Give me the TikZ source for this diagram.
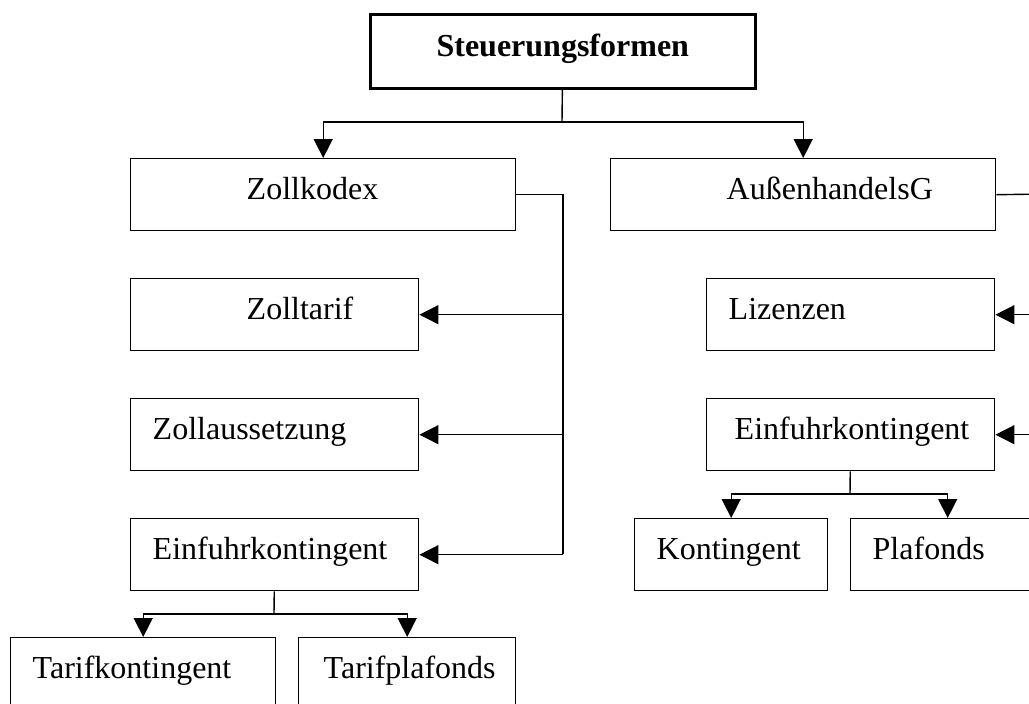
\documentclass[tikz,border=0pt]{standalone}
\usepackage{fontspec}
\setmainfont{Liberation Serif}
\usepackage{tikz}
\usetikzlibrary{positioning,shapes,arrows}
\tikzstyle{box}=[rectangle, draw=black, line width=1.4pt, anchor=north west, align=left, text=black, inner xsep=22pt, inner ysep=0pt, text height=41pt, text depth=31pt, font=\fontsize{32}{38}\selectfont]
\tikzstyle{link}=[line width=1.4pt]
\usetikzlibrary{arrows.meta}
\tikzset{>={Triangle[width=19pt,length=19pt]}}
\newcommand{\boxindent}{\hspace*{94pt}}

\begin{document}
\begin{tikzpicture}[x=1pt,y=-1pt]
    \useasboundingbox (0,0) rectangle (1029,704);
    \clip (0,0) rectangle (1029,704);

        \node(top)[box, line width=2.6pt, align=center, text width=341pt, text height=42pt, text depth=32pt] at (369,13) {\textbf{Steuerungsformen}};

        \node(zollkodex)[box, text width=341pt] at (130,158) {\boxindent\mbox{Zollkodex}};
        \node(aussen)[box, text width=341pt] at (610,158) {\boxindent\mbox{AußenhandelsG}};

        \node(zolltarif)[box, text width=244pt] at (130,278) {\boxindent\mbox{Zolltarif}};
        \node(zollaus)[box, text width=244pt] at (130,398) {\mbox{Zollaussetzung}};
        \node(einfL)[box, text width=244pt] at (130,518) {\mbox{Einfuhrkontingent}};
        \node(tarifk)[box, text width=221pt] at (10,637) {\mbox{Tarifkontingent}};
        \node(tarifp)[box, text width=173pt] at (298,637) {\hspace*{3pt}\mbox{Tarifplafonds}};

        \node(lizenzen)[box, text width=244pt] at (706,278) {\mbox{Lizenzen}};
        \node(einfR)[box, text width=244pt] at (706,398) {\hspace*{6pt}\mbox{Einfuhrkontingent}};
        \node(kontingent)[box, text width=149pt] at (634,518) {\mbox{Kontingent}};
        \node(plafonds)[box, text width=150pt] at (850,518) {\mbox{Plafonds}};

        % Verteilung von oben
        \coordinate (bus) at (562,122);
        \draw[link] (top) -- (bus);
        \draw[link, ->] (bus) -| (zollkodex);
        \draw[link, ->] (bus) -| (aussen);

        % linke Seite
        \coordinate (zbus) at (563,554);
        \draw[link] (zollkodex.east) -| (zbus);
        \foreach \n in {zolltarif, zollaus, einfL}{
            \draw[link, ->] (zbus |- \n.east) -- (\n.east);
        };

        \coordinate (lfork) at (274,614);
        \draw[link] (einfL) -- (lfork);
        \draw[link, ->] (lfork) -| (tarifk);
        \draw[link, ->] (lfork) -| (tarifp);

        % rechte Seite
        \coordinate (abus) at (1045,194);
        \draw[link] (aussen.east) -- (abus) -- (abus |- einfR.east);
        \foreach \n in {lizenzen, einfR}{
            \draw[link, ->] (abus |- \n.east) -- (\n.east);
        };

        \coordinate (rfork) at (850,494);
        \draw[link] (einfR) -- (rfork);
        \draw[link, ->] (rfork) -| (kontingent);
        \draw[link, ->] (rfork) -| (plafonds);

    \end{tikzpicture}
\end{document}
